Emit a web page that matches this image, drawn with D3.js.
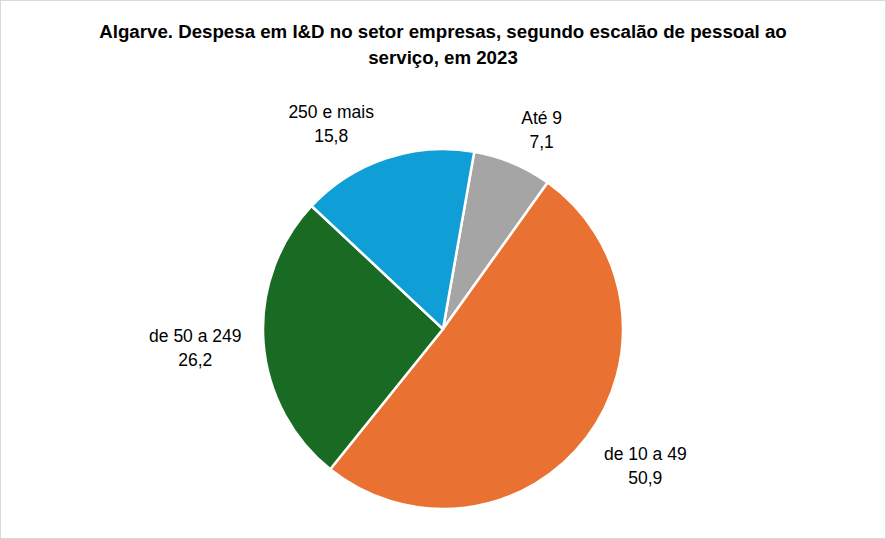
<!DOCTYPE html>
<html>
<head>
<meta charset="utf-8">
<script src="https://cdn.jsdelivr.net/npm/d3@7"></script>
<style>
  body { margin: 0; background: #fff; }
  svg { display: block; }
</style>
</head>
<body>
<svg id="chart" xmlns="http://www.w3.org/2000/svg"></svg>
<script>
const categories = ["Até 9", "de 10 a 49", "de 50 a 249", "250 e mais"];
const values = [7.1, 50.9, 26.2, 15.8];
const valueLabels = ["7,1", "50,9", "26,2", "15,8"];
const colors = ["#A5A5A5", "#E97132", "#196B24", "#0F9ED5"];
const titleLines = [
  "Algarve. Despesa em I&D no setor empresas, segundo escalão de pessoal ao",
  "serviço, em 2023"
];

const width = 886;
const height = 539;
const cx = 443;
const cy = 329;
const radius = 180;
const startAngle = 10 * Math.PI / 180;

const svg = d3.select("#chart").attr("width", width).attr("height", height);

svg.append("rect")
  .attr("x", 0.5).attr("y", 0.5)
  .attr("width", width - 1).attr("height", height - 1)
  .attr("fill", "#fff")
  .attr("stroke", "#D9D9D9");

svg.append("text")
  .attr("x", cx)
  .attr("y", 38)
  .attr("text-anchor", "middle")
  .style("font-family", "'Liberation Sans Narrow', 'Arial Narrow', sans-serif")
  .style("font-weight", "bold")
  .style("font-size", "18.7px")
  .style("fill", "#000")
  .selectAll("tspan")
  .data(titleLines)
  .enter()
  .append("tspan")
  .attr("x", cx)
  .attr("dy", (d, i) => (i === 0 ? 0 : 26))
  .text(d => d);

const data = categories.map((c, i) => ({ name: c, value: values[i], label: valueLabels[i], color: colors[i] }));

const pie = d3.pie()
  .value(d => d.value)
  .sort(null)
  .startAngle(startAngle)
  .endAngle(startAngle + 2 * Math.PI);

const arc = d3.arc().innerRadius(0).outerRadius(radius);

const g = svg.append("g").attr("transform", `translate(${cx},${cy})`);

const arcs = pie(data);

g.selectAll("path")
  .data(arcs)
  .enter()
  .append("path")
  .attr("d", arc)
  .attr("fill", d => d.data.color)
  .attr("stroke", "#fff")
  .attr("stroke-width", 2.5)
  .attr("stroke-linejoin", "round");

// labels outside end, pushed sideways by half their width
const labelFont = "'Liberation Sans', Arial, sans-serif";
const labels = g.selectAll("g.label")
  .data(arcs)
  .enter()
  .append("g")
  .attr("class", "label");

labels.each(function (d) {
  const grp = d3.select(this);
  const t = grp.append("text")
    .attr("text-anchor", "middle")
    .style("font-family", labelFont)
    .style("font-size", "17.5px")
    .style("fill", "#000");
  t.append("tspan").attr("x", 0).attr("y", -2).text(d.data.name);
  t.append("tspan").attr("x", 0).attr("y", 22).text(d.data.label);
  const box = t.node().getBBox();
  const a = (d.startAngle + d.endAngle) / 2;
  const s = Math.sin(a), c = -Math.cos(a);
  const px = (radius + 22) * s + Math.sign(s) * box.width / 2 - (s < -0.2 && s > -0.5 ? 5 : 0);
  const py = (radius + 18) * c + c * box.height / 2;
  grp.attr("transform", `translate(${px},${py})`);
});
</script>
</body>
</html>
